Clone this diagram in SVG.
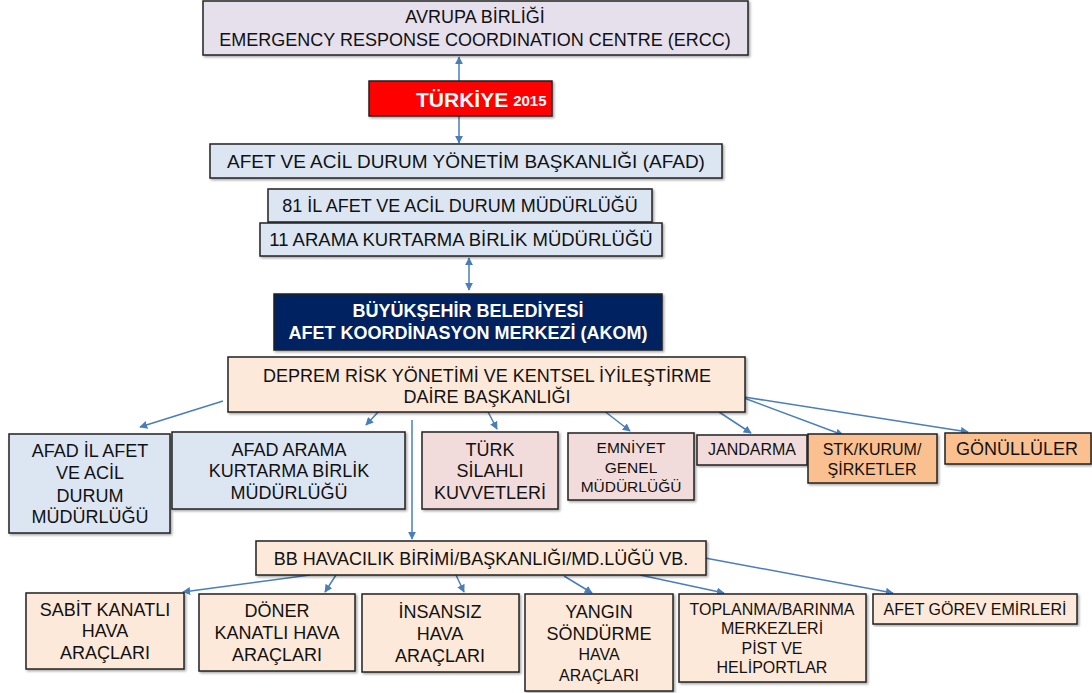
<svg xmlns="http://www.w3.org/2000/svg" width="1092" height="693" viewBox="0 0 1092 693">
<defs>
<marker id="ah" viewBox="0 0 10 10" refX="9" refY="5" markerWidth="8" markerHeight="8" markerUnits="userSpaceOnUse" orient="auto-start-reverse">
<path d="M0,0 L10,5 L0,10 z" fill="#4a7ebb"/>
</marker>
<filter id="sh" x="-5%" y="-5%" width="110%" height="115%">
<feDropShadow dx="1.5" dy="1.5" stdDeviation="0.8" flood-color="#000" flood-opacity="0.35"/>
</filter>
</defs>
<style>
.b{stroke:#222;stroke-width:1.5;filter:url(#sh)}
.t{font-family:"Liberation Sans",Arial,sans-serif;fill:#111;text-anchor:middle;font-size:18px}
.s{font-size:16px}
.w{font-family:"Liberation Sans",Arial,sans-serif;fill:#fff;text-anchor:middle;font-weight:bold;font-size:18px}
.c line{stroke:#4a7ebb;stroke-width:1.5;marker-end:url(#ah)}
</style>
<rect width="1092" height="693" fill="#fff"/>
<g class="c" id="connectors">
<line x1="459" y1="81" x2="459" y2="57"/>
<line x1="459" y1="116" x2="459" y2="143"/>
<line x1="469" y1="270" x2="469" y2="258"/>
<line x1="469" y1="270" x2="469" y2="290"/>
<line x1="223" y1="401" x2="140" y2="427"/>
<line x1="380" y1="410" x2="366" y2="425"/>
<line x1="412" y1="420" x2="412" y2="539"/>
<line x1="487" y1="410" x2="497" y2="429"/>
<line x1="603" y1="410" x2="630" y2="431"/>
<line x1="719" y1="412" x2="751" y2="433"/>
<line x1="744" y1="398" x2="843" y2="435"/>
<line x1="744" y1="397" x2="968" y2="432"/>
<line x1="310" y1="575" x2="183" y2="592"/>
<line x1="336" y1="575" x2="325" y2="592"/>
<line x1="456" y1="575" x2="464" y2="592"/>
<line x1="564" y1="576" x2="592" y2="593"/>
<line x1="640" y1="575" x2="724" y2="593"/>
<line x1="705" y1="558" x2="893" y2="593"/>
</g>
<g id="ercc"><rect class="b" x="203" y="1" width="545" height="54" fill="#e6e0ec"/>
<text class="t" x="475" y="23">AVRUPA BİRLİĞİ</text>
<text class="t" x="475" y="46">EMERGENCY RESPONSE COORDINATION CENTRE (ERCC)</text></g>
<g id="turkiye"><rect class="b" x="369" y="81" width="183" height="35" fill="#ff0000"/>
<text class="w" x="416" y="107" text-anchor="start" style="text-anchor:start"><tspan font-size="21">TÜRKİYE</tspan><tspan font-size="15" dx="5" dy="-1">2015</tspan></text></g>
<g id="afad"><rect class="b" x="210" y="144" width="512" height="34" fill="#dce6f2"/>
<text class="t" x="466" y="168" style="font-size:19px">AFET VE ACİL DURUM YÖNETİM BAŞKANLIĞI (AFAD)</text></g>
<g id="il81"><rect class="b" x="268" y="189" width="384" height="33" fill="#dce6f2"/>
<text class="t" x="460" y="212">81 İL AFET VE ACİL DURUM MÜDÜRLÜĞÜ</text></g>
<g id="ark11"><rect class="b" x="260" y="223" width="402" height="33" fill="#dce6f2"/>
<text class="t" x="461" y="246" style="font-size:18.5px">11 ARAMA KURTARMA BİRLİK MÜDÜRLÜĞÜ</text></g>
<g id="akom"><rect class="b" x="274" y="294" width="388" height="56" fill="#002060"/>
<text class="w" x="468" y="317">BÜYÜKŞEHİR BELEDİYESİ</text>
<text class="w" x="468" y="339">AFET KOORDİNASYON MERKEZİ (AKOM)</text></g>
<g id="deprem"><rect class="b" x="228" y="357" width="517" height="55" fill="#fde9d9"/>
<text class="t" x="487" y="382">DEPREM RİSK YÖNETİMİ VE KENTSEL İYİLEŞTİRME</text>
<text class="t" x="487" y="403">DAİRE BAŞKANLIĞI</text></g>
<g id="afadil"><rect class="b" x="9" y="434" width="161" height="99" fill="#dce6f2"/>
<text class="t" x="90" y="457">AFAD İL AFET</text>
<text class="t" x="90" y="479">VE ACİL</text>
<text class="t" x="90" y="502">DURUM</text>
<text class="t" x="90" y="523">MÜDÜRLÜĞÜ</text></g>
<g id="afadark"><rect class="b" x="172" y="432" width="233" height="77" fill="#dce6f2"/>
<text class="t" x="289" y="456">AFAD ARAMA</text>
<text class="t" x="289" y="477">KURTARMA BİRLİK</text>
<text class="t" x="289" y="499">MÜDÜRLÜĞÜ</text></g>
<g id="tsk"><rect class="b" x="422" y="432" width="136" height="77" fill="#f2dcdb"/>
<text class="t" x="490" y="456">TÜRK</text>
<text class="t" x="490" y="477">SİLAHLI</text>
<text class="t" x="490" y="499">KUVVETLERİ</text></g>
<g id="egm"><rect class="b" x="568" y="433" width="126" height="67" fill="#f2dcdb"/>
<text class="t" x="631" y="453" style="font-size:15.5px">EMNİYET</text>
<text class="t" x="631" y="473" style="font-size:15.5px">GENEL</text>
<text class="t" x="631" y="492" style="font-size:15.5px">MÜDÜRLÜĞÜ</text></g>
<g id="jandarma"><rect class="b" x="697" y="435" width="110" height="30" fill="#f2dcdb"/>
<text class="t s" x="752" y="455">JANDARMA</text></g>
<g id="stk"><rect class="b" x="808" y="434" width="129" height="49" fill="#fac090"/>
<text class="t s" x="872" y="455">STK/KURUM/</text>
<text class="t s" x="872" y="475">ŞİRKETLER</text></g>
<g id="gonullu"><rect class="b" x="945" y="433" width="146" height="31" fill="#fac090"/>
<text class="t" x="1017" y="455">GÖNÜLLÜLER</text></g>
<g id="bbhava"><rect class="b" x="256" y="541" width="450" height="34" fill="#fde9d9"/>
<text class="t" x="481" y="565">BB HAVACILIK BİRİMİ/BAŞKANLIĞI/MD.LÜĞÜ VB.</text></g>
<g id="sabit"><rect class="b" x="26" y="593" width="158" height="76" fill="#fde9d9"/>
<text class="t" x="105" y="616">SABİT KANATLI</text>
<text class="t" x="105" y="637">HAVA</text>
<text class="t" x="105" y="659">ARAÇLARI</text></g>
<g id="doner"><rect class="b" x="199" y="594" width="156" height="77" fill="#fde9d9"/>
<text class="t" x="277" y="617">DÖNER</text>
<text class="t" x="277" y="639">KANATLI HAVA</text>
<text class="t" x="277" y="661">ARAÇLARI</text></g>
<g id="insansiz"><rect class="b" x="362" y="594" width="157" height="78" fill="#fde9d9"/>
<text class="t" x="440" y="618">İNSANSIZ</text>
<text class="t" x="440" y="640">HAVA</text>
<text class="t" x="440" y="662">ARAÇLARI</text></g>
<g id="yangin"><rect class="b" x="525" y="594" width="148" height="97" fill="#fde9d9"/>
<text class="t" x="599" y="618">YANGIN</text>
<text class="t" x="599" y="640">SÖNDÜRME</text>
<text class="t s" x="599" y="660">HAVA</text>
<text class="t s" x="599" y="681">ARAÇLARI</text></g>
<g id="toplanma"><rect class="b" x="679" y="594" width="187" height="88" fill="#fde9d9"/>
<text class="t s" x="772" y="615">TOPLANMA/BARINMA</text>
<text class="t s" x="772" y="634">MERKEZLERİ</text>
<text class="t s" x="772" y="654">PİST VE</text>
<text class="t s" x="772" y="673">HELİPORTLAR</text></g>
<g id="gorev"><rect class="b" x="873" y="594" width="204" height="30" fill="#fde9d9"/>
<text class="t s" x="975" y="615">AFET GÖREV EMİRLERİ</text></g>
</svg>
